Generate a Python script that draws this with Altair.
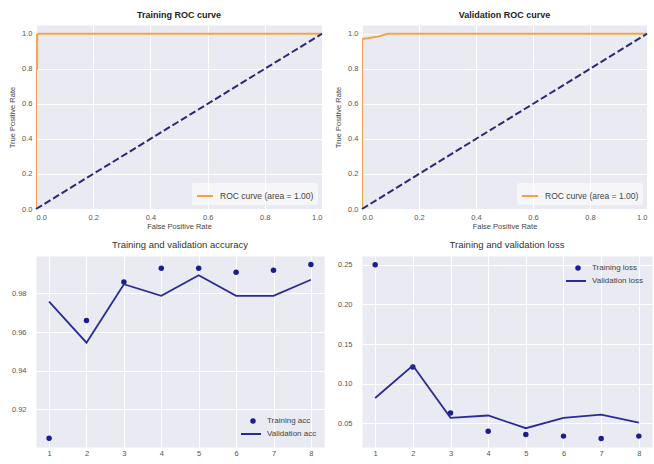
import altair as alt
import pandas as pd

# ROC curve points (false positive rate, true positive rate)
train_fpr = [0.0, 0.0, 0.004, 0.004, 0.01, 1.0]
train_tpr = [0.0, 0.79, 0.80, 0.995, 1.0, 1.0]
val_fpr = [0.0, 0.0, 0.02, 0.04, 0.06, 0.09, 1.0]
val_tpr = [0.0, 0.97, 0.975, 0.98, 0.985, 1.0, 1.0]
chance = [0.0, 1.0]
roc_label = "ROC curve (area = 1.00)"

# Training history per epoch
epochs = [1, 2, 3, 4, 5, 6, 7, 8]
train_acc = [0.905, 0.966, 0.986, 0.993, 0.993, 0.991, 0.992, 0.995]
val_acc = [0.9758, 0.9545, 0.9848, 0.9788, 0.9894, 0.9788, 0.9788, 0.9871]
train_loss = [0.250, 0.121, 0.063, 0.040, 0.036, 0.034, 0.031, 0.034]
val_loss = [0.082, 0.123, 0.057, 0.060, 0.044, 0.057, 0.061, 0.051]

# Tick positions
roc_ticks = [0.0, 0.2, 0.4, 0.6, 0.8, 1.0]
acc_ticks = [0.92, 0.94, 0.96, 0.98]
loss_ticks = [0.05, 0.10, 0.15, 0.20, 0.25]

BG = "#EAEAF2"
ORANGE = "#F3A24A"
NAVY = "#2A2A72"
BLUE = "#1D1D8F"
LINE_BLUE = "#2B2B95"
FONT = "Liberation Sans"

AXIS_STYLE = dict(
    grid=True, gridColor="white", gridWidth=1, domain=False, ticks=False,
    labelOverlap=False, labelFont=FONT, labelFontSize=7.5, labelColor="#555",
    titleFont=FONT, titleFontSize=7.5, titleColor="#444", titleFontWeight="normal",
)


def roc_chart(fpr, tpr, title, width):
    curve_df = pd.DataFrame({"fpr": fpr, "tpr": tpr, "series": roc_label,
                             "idx": list(range(len(fpr)))})
    diag_df = pd.DataFrame({"fpr": chance, "tpr": chance})
    x = alt.X("fpr:Q", scale=alt.Scale(domain=[0, 1], nice=False, zero=False),
              axis=alt.Axis(values=roc_ticks, format=".1f", title="False Positive Rate",
                            labelPadding=4, titlePadding=2, **AXIS_STYLE))
    y = alt.Y("tpr:Q", scale=alt.Scale(domain=[0, 1.05], nice=False, zero=False),
              axis=alt.Axis(values=roc_ticks, format=".1f", title="True Positive Rate",
                            labelPadding=4, titlePadding=5, tickCount=6, **AXIS_STYLE))
    curve = alt.Chart(curve_df).mark_line(strokeWidth=2, clip=True).encode(
        x=x, y=y, order="idx:Q",
        stroke=alt.Stroke("series:N", scale=alt.Scale(domain=[roc_label], range=[ORANGE]),
                          legend=alt.Legend(title=None, orient="bottom-right", offset=4,
                                            symbolType="stroke", symbolSize=256,
                                            symbolStrokeWidth=2, labelFontSize=8.5,
                                            labelColor="#444", labelFont=FONT,
                                            fillColor="rgba(255,255,255,0.55)",
                                            padding=4, cornerRadius=2, labelOffset=6)),
    )
    diag = alt.Chart(diag_df).mark_line(strokeWidth=2, strokeDash=[7, 3], color=NAVY).encode(
        x=x, y=y)
    return alt.layer(curve, diag).properties(
        width=width, height=184,
        title=alt.TitleParams(title, fontSize=9, fontWeight="bold", offset=5, color="#222",
                              font=FONT, anchor="middle"),
    )


def history_chart(train, val, train_name, val_name, title, width, domain, ticks,
                  leg_train, leg_val):
    train_df = pd.DataFrame({"epoch": epochs, "value": train, "series": train_name})
    val_df = pd.DataFrame({"epoch": epochs, "value": val, "series": val_name})
    x = alt.X("epoch:Q", scale=alt.Scale(domain=[0.65, 8.35], nice=False, zero=False),
              axis=alt.Axis(values=epochs, format="d", title=None, labelPadding=2,
                            **AXIS_STYLE))
    y = alt.Y("value:Q", scale=alt.Scale(domain=domain, nice=False, zero=False),
              axis=alt.Axis(values=ticks, format=".2f", title=None, labelPadding=10,
                            **AXIS_STYLE))
    pts = alt.Chart(train_df).mark_circle(size=30, opacity=1).encode(
        x=x, y=y,
        color=alt.Color("series:N", scale=alt.Scale(domain=[train_name], range=[BLUE]),
                        legend=alt.Legend(title=None, orient="none",
                                          legendX=leg_train[0], legendY=leg_train[1],
                                          symbolType="circle", symbolSize=30,
                                          labelFontSize=8, labelColor="#444",
                                          labelFont=FONT, labelOffset=10, padding=0)),
    )
    line = alt.Chart(val_df).mark_line(strokeWidth=1.8).encode(
        x=x, y=y,
        stroke=alt.Stroke("series:N", scale=alt.Scale(domain=[val_name], range=[LINE_BLUE]),
                          legend=alt.Legend(title=None, orient="none",
                                            legendX=leg_val[0], legendY=leg_val[1],
                                            symbolType="stroke", symbolSize=400,
                                            symbolStrokeWidth=2, labelFontSize=8,
                                            labelColor="#444", labelFont=FONT,
                                            labelOffset=5, padding=0)),
    )
    return alt.layer(pts, line).properties(
        width=width, height=191,
        title=alt.TitleParams(title, fontSize=9.5, fontWeight="normal", offset=7, color="#333",
                              font=FONT, anchor="middle"),
    )


roc_train = roc_chart(train_fpr, train_tpr, "Training ROC curve", 286)
roc_val = roc_chart(val_fpr, val_tpr, "Validation ROC curve", 285)
acc_chart = history_chart(train_acc, val_acc, "Training acc", "Validation acc",
                          "Training and validation accuracy", 288,
                          [0.9005, 0.9994], acc_ticks, (213, 161), (204, 167))
loss_chart = history_chart(train_loss, val_loss, "Training loss", "Validation loss",
                           "Training and validation loss", 290,
                           [0.0203, 0.2609], loss_ticks, (212, 8), (203, 14))

chart = alt.concat(
    roc_train, roc_val, acc_chart, loss_chart,
    columns=2, spacing={"row": 47, "column": 38}, bounds="flush",
).resolve_scale(
    color="independent", stroke="independent",
).resolve_legend(
    color="independent", stroke="independent",
).properties(
    padding={"left": 8, "top": 10, "right": 0, "bottom": 0},
    background="white",
).configure_view(
    fill=BG, stroke="transparent",
)

chart.save("out.html", embed_options={"renderer": "svg", "actions": False})
